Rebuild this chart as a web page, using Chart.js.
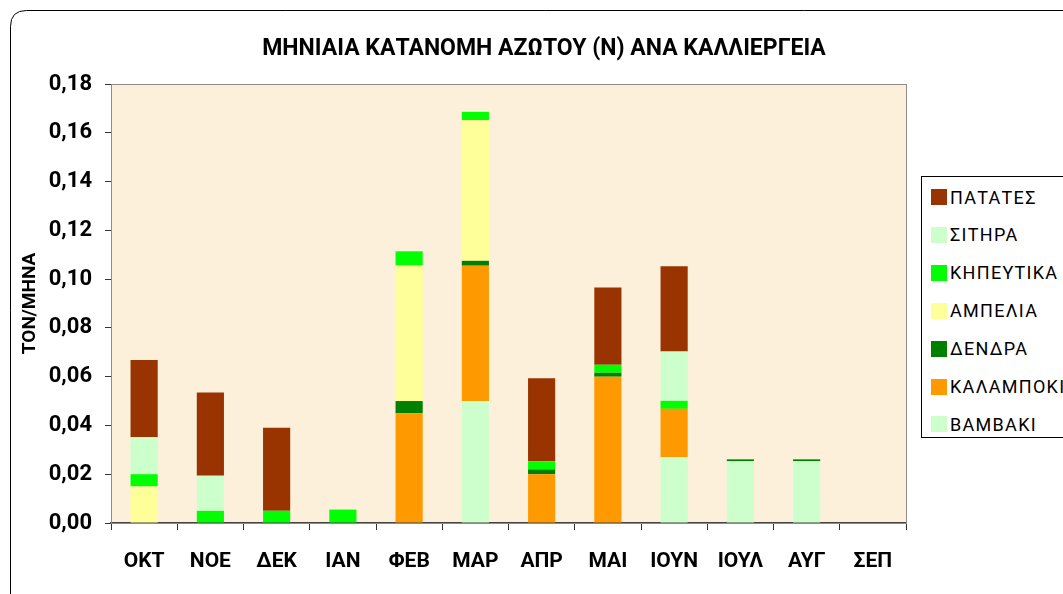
<!DOCTYPE html>
<html>
<head>
<meta charset="utf-8">
<script src="https://cdn.jsdelivr.net/npm/chart.js@4.4.1/dist/chart.umd.min.js"></script>
<style>
  html, body { margin: 0; padding: 0; background: #ffffff; overflow: hidden; }
  #wrap { position: relative; width: 1063px; height: 594px; overflow: hidden; }
  #c { position: absolute; left: 0; top: 0; }
  #title {
    position: absolute; left: 544px; top: 47px; transform: translate(-50%, -50%);
    white-space: nowrap; font-family: Roboto, "Noto Sans", sans-serif; font-weight: bold;
    font-size: 23px; line-height: 1; color: #000;
  }
  #legend {
    position: absolute; left: 921px; top: 176px; width: 200px; height: 262px;
    border: 1px solid #000; background: #fff; box-sizing: border-box;
    font-family: Roboto, "Noto Sans", sans-serif; font-size: 18px; color: #000;
  }
  .li { position: absolute; left: 9px; height: 20px; display: flex; align-items: center; white-space: nowrap; letter-spacing: 1.3px; }
  .sw { width: 16px; height: 16px; margin-right: 3px; flex: none; }
</style>
</head>
<body>
<div id="wrap">
  <canvas id="c" width="1063" height="594"></canvas>
  <div id="title"></div>
  <div id="legend"></div>
</div>
<script>
// ---- data ----
const months = ["ΟΚΤ", "ΝΟΕ", "ΔΕΚ", "ΙΑΝ", "ΦΕΒ", "ΜΑΡ", "ΑΠΡ", "ΜΑΙ", "ΙΟΥΝ", "ΙΟΥΛ", "ΑΥΓ", "ΣΕΠ"];
const bambaki    = [0, 0, 0, 0, 0, 0.050, 0, 0, 0.027, 0.0253, 0.0253, 0];
const kalampoki  = [0, 0, 0, 0, 0.045, 0.0555, 0.020, 0.060, 0.0198, 0, 0, 0];
const dendra     = [0, 0, 0, 0, 0.005, 0.002, 0.002, 0.0016, 0, 0.0008, 0.0008, 0];
const ampelia    = [0.015, 0, 0, 0, 0.0556, 0.0577, 0, 0, 0, 0, 0, 0];
const kipeutika  = [0.005, 0.005, 0.005, 0.0055, 0.0058, 0.0034, 0.0033, 0.0033, 0.0033, 0, 0, 0];
const sitira     = [0.0152, 0.0144, 0, 0, 0, 0, 0, 0, 0.0202, 0, 0, 0];
const patates    = [0.0316, 0.0341, 0.0341, 0, 0, 0, 0.034, 0.0317, 0.035, 0, 0, 0];
const yTicks     = [0, 0.02, 0.04, 0.06, 0.08, 0.10, 0.12, 0.14, 0.16, 0.18];
const titleText  = "ΜΗΝΙΑΙΑ ΚΑΤΑΝΟΜΗ ΑΖΩΤΟΥ (Ν) ΑΝΑ ΚΑΛΛΙΕΡΓΕΙΑ";
const yTitleText = "ΤΟΝ/ΜΗΝΑ";

const seriesNames  = ["ΒΑΜΒΑΚΙ", "ΚΑΛΑΜΠΟΚΙ", "ΔΕΝΔΡΑ", "ΑΜΠΕΛΙΑ", "ΚΗΠΕΥΤΙΚΑ", "ΣΙΤΗΡΑ", "ΠΑΤΑΤΕΣ"];
const seriesData   = [bambaki, kalampoki, dendra, ampelia, kipeutika, sitira, patates];
const seriesColors = ["#CCFFCC", "#FF9900", "#008000", "#FFFF99", "#00FF00", "#CCFFCC", "#993300"];

const datasets = seriesNames.map((n, i) => ({
  label: n, data: seriesData[i], backgroundColor: seriesColors[i],
  borderWidth: 0, barPercentage: 1.0, categoryPercentage: 0.41, stack: "s"
}));

const framePlugin = {
  id: "frame",
  beforeDraw(chart) {
    const ctx = chart.ctx;
    ctx.save();
    ctx.fillStyle = "#ffffff";
    ctx.fillRect(0, 0, chart.width, chart.height);
    // outer rounded border (right and bottom run off the picture)
    const x = 10.5, y = 10.5, w = 1200, h = 700, r = 16;
    ctx.beginPath();
    ctx.moveTo(x + w, y);
    ctx.lineTo(x + r, y);
    ctx.quadraticCurveTo(x, y, x, y + r);
    ctx.lineTo(x, y + h);
    ctx.strokeStyle = "#000";
    ctx.lineWidth = 1;
    ctx.stroke();
    // plot area background
    const a = chart.chartArea;
    ctx.fillStyle = "#FCF0DB";
    ctx.fillRect(a.left, a.top, a.right - a.left, a.bottom - a.top);
    ctx.restore();
  },
  afterDatasetsDraw(chart) {
    const ctx = chart.ctx, a = chart.chartArea;
    ctx.save();
    ctx.strokeStyle = "#8c8c8c";
    ctx.lineWidth = 1;
    ctx.strokeRect(Math.round(a.left) + 0.5, Math.round(a.top) + 0.5, Math.round(a.right - a.left), Math.round(a.bottom - a.top));
    ctx.restore();
  }
};

document.getElementById("title").textContent = titleText;

const chart = new Chart(document.getElementById("c"), {
  type: "bar",
  data: { labels: months, datasets },
  options: {
    responsive: false,
    animation: false,
    devicePixelRatio: 1,
    layout: { padding: { left: 0, right: 157, top: 84, bottom: 0 } },
    plugins: {
      legend: { display: false },
      tooltip: { enabled: false },
      title: { display: false }
    },
    scales: {
      x: {
        stacked: true,
        afterFit(s) { s.height = 71; },
        grid: { offset: true, drawOnChartArea: false, drawTicks: true, tickLength: 7, color: "#333" },
        border: { color: "#444", width: 2 },
        ticks: {
          color: "#000", padding: 19,
          font: { family: "Roboto, 'Noto Sans', sans-serif", size: 21, weight: "bold", lineHeight: 1.2 }
        }
      },
      y: {
        stacked: true,
        min: 0, max: 0.18,
        afterFit(s) { s.width = 111; },
        afterBuildTicks(s) { s.ticks = yTicks.map(v => ({ value: v })); },
        grid: { drawOnChartArea: false, drawTicks: true, tickLength: 6, color: "#333" },
        border: { color: "#8c8c8c", width: 1 },
        title: {
          display: true, text: yTitleText, color: "#000",
          font: { family: "Roboto, 'Noto Sans', sans-serif", size: 19, weight: "bold", lineHeight: 1.2 },
          padding: { top: 19, bottom: 0 }
        },
        ticks: {
          color: "#000", padding: 13,
          font: { family: "Roboto, 'Noto Sans', sans-serif", size: 22, weight: "bold" },
          callback: v => Number(v).toFixed(2).replace(".", ",")
        }
      }
    }
  },
  plugins: [framePlugin]
});

// legend (reverse order, as in the reference)
const leg = document.getElementById("legend");
for (let k = seriesNames.length - 1, j = 0; k >= 0; k--, j++) {
  const d = document.createElement("div");
  d.className = "li";
  d.style.top = (21 - 10 + j * 37.9 - 1) + "px";
  const sw = document.createElement("span");
  sw.className = "sw";
  sw.style.background = seriesColors[k];
  const t = document.createElement("span");
  t.textContent = seriesNames[k];
  d.appendChild(sw); d.appendChild(t);
  leg.appendChild(d);
}
</script>
</body>
</html>
